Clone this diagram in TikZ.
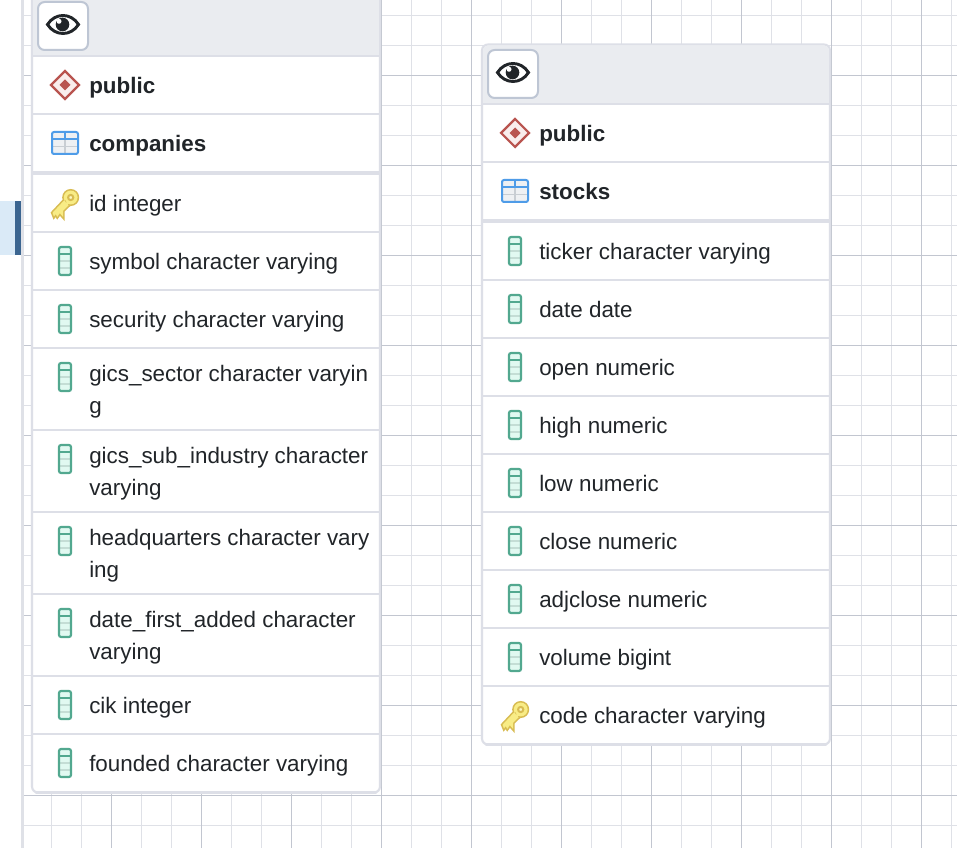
\documentclass[tikz,border=0pt]{standalone}
\usepackage{fontspec}
\setmainfont{Liberation Sans}
\definecolor{minorgrid}{HTML}{DFE1E7}
\definecolor{majorgrid}{HTML}{C2C6D0}
\definecolor{frameline}{HTML}{DDDFE7}
\definecolor{headfill}{HTML}{EAECF0}
\definecolor{txt}{HTML}{212529}
\definecolor{btnline}{HTML}{BEC6D4}
\definecolor{hilite}{HTML}{DAEAF7}
\definecolor{hibar}{HTML}{3B6590}
\definecolor{colline}{HTML}{52A88F}
\definecolor{colfill}{HTML}{E1F9F1}
\definecolor{colband}{HTML}{C4DDD5}
\definecolor{keyfill}{HTML}{F8EC85}
\definecolor{keyline}{HTML}{D8BC52}
\definecolor{keyhole}{HTML}{FBF6C4}
\definecolor{tabline}{HTML}{4F9CE8}
\definecolor{tabfill}{HTML}{EEF0F3}
\definecolor{tabin}{HTML}{C8CDD3}
\definecolor{schline}{HTML}{B9544F}
\definecolor{schfill}{HTML}{F9EDEC}
\newcommand\rowstrut{\rule[-4pt]{0pt}{20.6pt}}
\tikzset{
  rowtext/.style={anchor=west,inner sep=0pt,text=txt,align=left,
    font=\fontsize{16.8pt}{24pt}\selectfont},
  headtext/.style={rowtext,font=\fontsize{16.8pt}{24pt}\selectfont\bfseries},
  tableframe/.style={draw=frameline,line width=1.6pt,fill=white,rounded corners=4.5pt},
  sep/.style={draw=frameline,line width=1.5pt},
  thicksep/.style={draw=frameline,line width=3pt},
  bottomsep/.style={draw=frameline,line width=2.2pt,line cap=round},
  btn/.style={draw=btnline,line width=1.5pt,fill=white,rounded corners=5pt},
  pics/eyeicon/.style={code={
    \draw[txt,line width=2.2pt,line join=miter] (-15.5,0) .. controls (-8,-12) and (8,-12) .. (15.5,0)
       .. controls (8,12) and (-8,12) .. (-15.5,0) -- cycle;
    \fill[txt] (-0.5,0) circle (6.8);
    \fill[white] (-4,-3.2) circle (2.5);
  }},
  pics/diamondicon/.style={code={
    \draw[schline,fill=schfill,line width=1.6pt,line join=miter] (-14,0) -- (0,-14) -- (14,0) -- (0,14) -- cycle;
    \fill[schline] (-5.5,0) -- (0,-5.5) -- (5.5,0) -- (0,5.5) -- cycle;
  }},
  pics/tableicon/.style={code={
    \fill[tabfill,rounded corners=1.5] (-13,-11) rectangle (13,11);
    \draw[tabin,line width=1.2pt] (-13,3.5) -- (13,3.5) (0,-3.5) -- (0,11);
    \draw[tabline,line width=1.2pt] (-13,-3.7) -- (13,-3.7) (0,-11) -- (0,-3.7);
    \draw[tabline,line width=1.5pt,rounded corners=1.5] (-13,-11) rectangle (13,11);
  }},
  pics/keyicon/.style={code={
    \def\keyshape{(0,-3.5) -- (-12.5,9.8) -- (-11,13.5) -- (-9.3,11.2) -- (-7.7,13.8) -- (-5.2,10.2) -- (-2,13.8) -- (-2,7.8) -- (3.5,2.5) -- cycle (5.7,-5.5) circle (6.9)}
    \draw[keyline,line width=2.4pt,line join=miter,miter limit=3] \keyshape;
    \fill[keyfill] \keyshape;
    \draw[keyline,fill=keyhole,line width=1.5pt] (5.7,-5.5) circle (2.6);
  }},
  pics/columnicon/.style={code={
    \fill[colfill,rounded corners=1.5] (-6,-14) rectangle (6,14);
    \draw[colband,line width=2pt] (-6,0) -- (6,0) (-6,7) -- (6,7);
    \draw[colline,line width=1.4pt] (-6,-7) -- (6,-7);
    \draw[colline,line width=1.6pt,rounded corners=1.5] (-6,-14) rectangle (6,14);
  }},
}
\begin{document}
\begin{tikzpicture}[x=0.75pt,y=-0.75pt]
\useasboundingbox (0,0) rectangle (957,848);
\clip (0,0) rectangle (957,848);
\fill[white] (0,0) rectangle (957,848);
% grid
\begin{scope}[line width=0.75pt]
\foreach \x in {51.5,81.5,141.5,171.5,231.5,261.5,321.5,351.5,411.5,441.5,501.5,531.5,591.5,621.5,681.5,711.5,771.5,801.5,861.5,891.5,951.5}
  \draw[minorgrid] (\x,0) -- (\x,848);
\foreach \y in {15.5,45.5,105.5,135.5,195.5,225.5,285.5,315.5,375.5,405.5,465.5,495.5,555.5,585.5,645.5,675.5,735.5,765.5,825.5}
  \draw[minorgrid] (22,\y) -- (957,\y);
\foreach \x in {111.5,201.5,291.5,381.5,471.5,561.5,651.5,741.5,831.5,921.5}
  \draw[majorgrid] (\x,0) -- (\x,848);
\foreach \y in {75.5,165.5,255.5,345.5,435.5,525.5,615.5,705.5,795.5}
  \draw[majorgrid] (22,\y) -- (957,\y);
\end{scope}
\draw[minorgrid,line width=1.8pt] (22.5,0) -- (22.5,848);
% left highlight
\fill[hilite] (0,201) rectangle (15,255);
\fill[hibar] (15,201) rectangle (21,255);
% companies table
\path[tableframe] (32,-10) rectangle (380,792.5);
\fill[headfill] (33,-9) rectangle (379,56);
\foreach \y in {56,114,232,290,348,430,512,594,676,734}
  \path[sep] (32,\y) -- (380,\y);
\path[thicksep] (32,173) -- (380,173);
\path[bottomsep] (36,792.5) -- (376,792.5);
\path[btn] (38,2) rectangle (88,50);
\pic at (63,24.5) {eyeicon};
\pic at (65,85) {diamondicon};
\pic at (65,143) {tableicon};
\pic at (65,203) {keyicon};
\foreach \y in {261,319,377,459,541,623,705,763}
  \pic at (65,\y) {columnicon};
\node[headtext] (c1) at (89,85) {\rowstrut public};
\node[headtext] (c2) at (89,143) {\rowstrut companies};
\node[rowtext] (c3) at (89,203) {\rowstrut id integer};
\node[rowtext] (c4) at (89,261) {\rowstrut symbol character varying};
\node[rowtext] (c5) at (89,319) {\rowstrut security character varying};
\node[rowtext] (c6) at (89,389) {\rowstrut gics\_sector character varyin\\\rowstrut g};
\node[rowtext] (c7) at (89,471) {\rowstrut gics\_sub\_industry character\\\rowstrut varying};
\node[rowtext] (c8) at (89,553) {\rowstrut headquarters character vary\\\rowstrut ing};
\node[rowtext] (c9) at (89,635) {\rowstrut date\_first\_added character\\\rowstrut varying};
\node[rowtext] (c10) at (89,705) {\rowstrut cik integer};
\node[rowtext] (c11) at (89,763) {\rowstrut founded character varying};
% stocks table
\path[tableframe] (482,44.5) rectangle (830,744.5);
\fill[headfill,rounded corners=3.5pt] (483,45.5) rectangle (829,70);
\fill[headfill] (483,55) rectangle (829,104);
\foreach \y in {104,162,280,338,396,454,512,570,628,686}
  \path[sep] (482,\y) -- (830,\y);
\path[thicksep] (482,221) -- (830,221);
\path[bottomsep] (486,744.5) -- (826,744.5);
\path[btn] (488,50) rectangle (538,98);
\pic at (513,72.5) {eyeicon};
\pic at (515,133) {diamondicon};
\pic at (515,191) {tableicon};
\pic at (515,715) {keyicon};
\foreach \y in {251,309,367,425,483,541,599,657}
  \pic at (515,\y) {columnicon};
\node[headtext] (s1) at (539,133) {\rowstrut public};
\node[headtext] (s2) at (539,191) {\rowstrut stocks};
\node[rowtext] (s3) at (539,251) {\rowstrut ticker character varying};
\node[rowtext] (s4) at (539,309) {\rowstrut date date};
\node[rowtext] (s5) at (539,367) {\rowstrut open numeric};
\node[rowtext] (s6) at (539,425) {\rowstrut high numeric};
\node[rowtext] (s7) at (539,483) {\rowstrut low numeric};
\node[rowtext] (s8) at (539,541) {\rowstrut close numeric};
\node[rowtext] (s9) at (539,599) {\rowstrut adjclose numeric};
\node[rowtext] (s10) at (539,657) {\rowstrut volume bigint};
\node[rowtext] (s11) at (539,715) {\rowstrut code character varying};
\end{tikzpicture}
\end{document}
